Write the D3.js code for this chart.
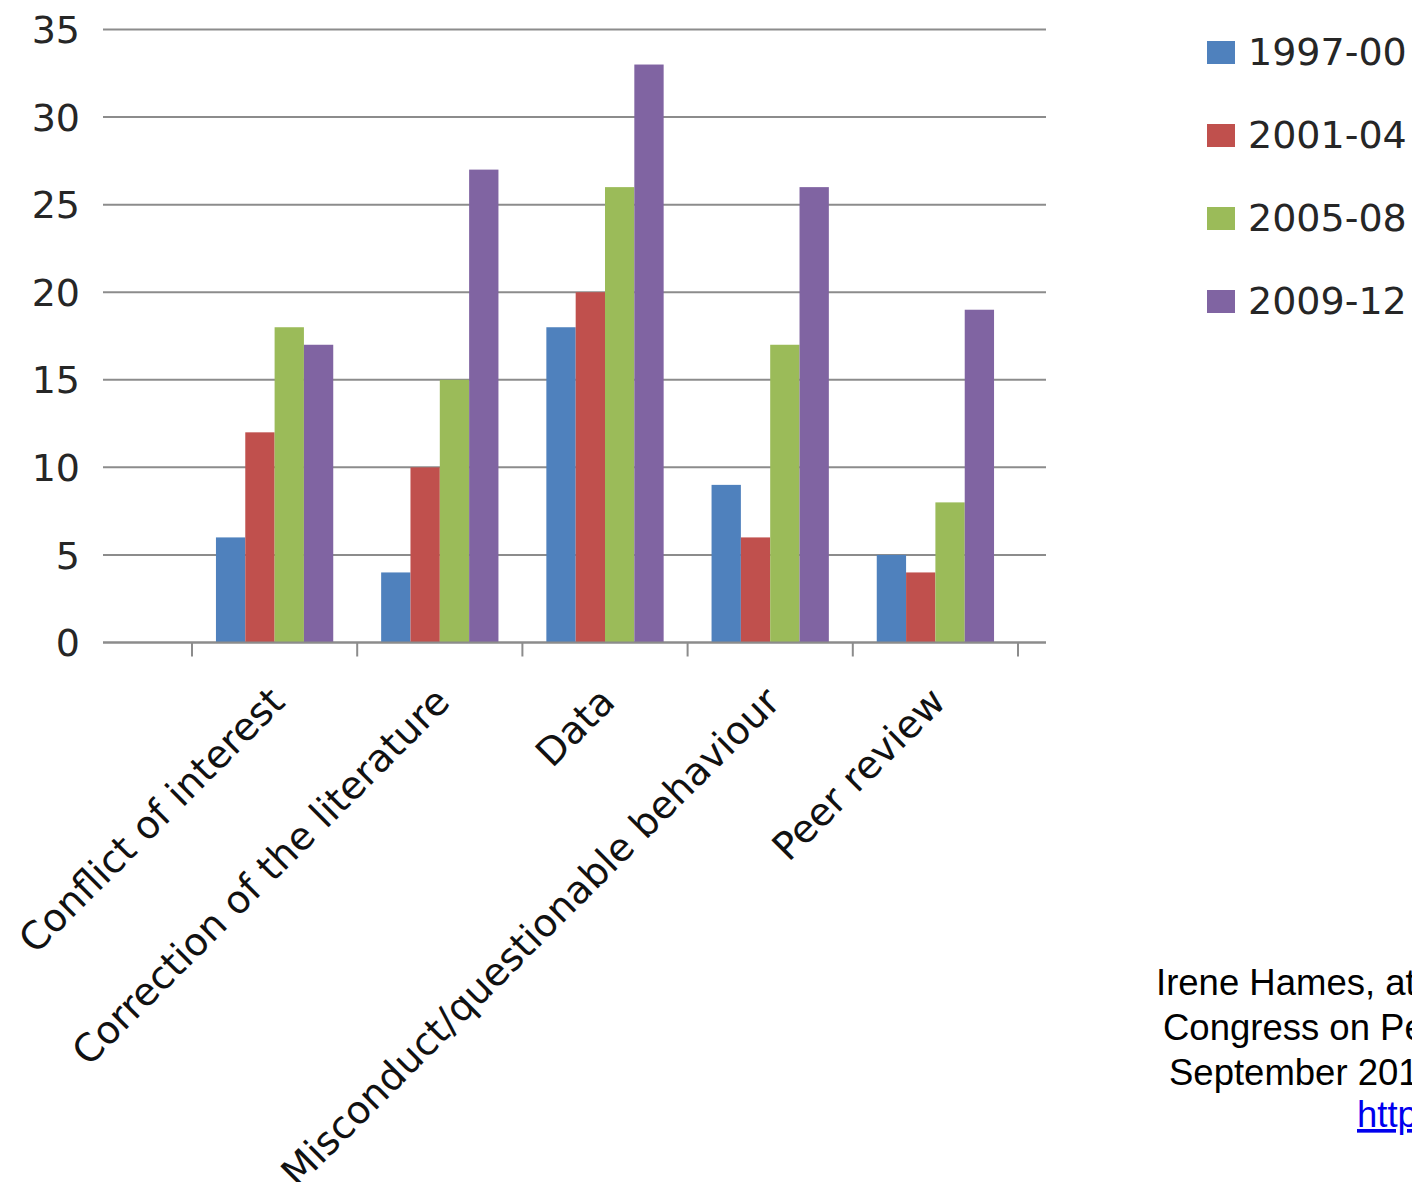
<!DOCTYPE html>
<html>
<head>
<meta charset="utf-8">
<script src="https://cdn.jsdelivr.net/npm/d3@7"></script>
<style>
  html, body { margin: 0; padding: 0; background: #fff; overflow: hidden; }
  svg { display: block; }
</style>
</head>
<body>
<svg id="chart" width="1412" height="1182"></svg>
<script>
// chart data
const categories = ['Conflict of interest', 'Correction of the literature', 'Data',
    'Misconduct/questionable behaviour', 'Peer review'];
const seriesNames = ['1997-00', '2001-04', '2005-08', '2009-12'];
const values1997 = [6, 4, 18, 9, 5];
const values2001 = [12, 10, 20, 6, 4];
const values2005 = [18, 15, 26, 17, 8];
const values2009 = [17, 27, 33, 26, 19];
const yTicks = [0, 5, 10, 15, 20, 25, 30, 35];
const sourceLines = [
    'Irene Hames, at the Seventh International',
    'Congress on Peer Review and Biomedical Publication,',
    'September 2013,'
];
const sourceLink = 'http://www.peerreviewcongress.org';

const colors = ['#4f81bd', '#c0504d', '#9bbb59', '#8064a2'];
const seriesValues = [values1997, values2001, values2005, values2009];

const svg = d3.select('#chart');
const font = '"DejaVu Sans", sans-serif';
const gridColor = '#8c8c8c';

const plot = { left: 103, right: 1046, top: 29.5, bottom: 642.5 };

const y = d3.scaleLinear().domain([0, 35]).range([plot.bottom, plot.top]);
const x0 = d3.scaleBand().domain(categories).range([192, 1018])
    .paddingInner(0.29).paddingOuter(0.145);
const x1 = d3.scaleBand().domain(seriesNames).range([0, x0.bandwidth()]);

// gridlines
svg.append('g')
    .selectAll('line')
    .data(yTicks)
    .join('line')
    .attr('x1', plot.left)
    .attr('x2', plot.right)
    .attr('y1', (d) => y(d))
    .attr('y2', (d) => y(d))
    .attr('stroke', gridColor)
    .attr('stroke-width', 2);

// y labels
svg.append('g')
    .selectAll('text')
    .data(yTicks)
    .join('text')
    .attr('x', 80)
    .attr('y', (d) => y(d))
    .attr('dy', '0.36em')
    .attr('text-anchor', 'end')
    .style('font-family', font)
    .style('font-size', '38px')
    .attr('fill', '#262626')
    .text((d) => d);

// bars
const rows = categories.map((c, i) => ({ key: c, vals: seriesValues.map((s, j) => ({ name: seriesNames[j], v: s[i], j })) }));

svg.append('g')
    .selectAll('g')
    .data(rows)
    .join('g')
    .attr('transform', (d) => `translate(${x0(d.key)},0)`)
    .selectAll('rect')
    .data((d) => d.vals)
    .join('rect')
    .attr('x', (d) => x1(d.name))
    .attr('width', x1.bandwidth())
    .attr('y', (d) => y(d.v))
    .attr('height', (d) => y(0) - y(d.v))
    .attr('fill', (d) => colors[d.j]);

// x axis line and ticks
svg.append('line')
    .attr('x1', plot.left).attr('x2', plot.right)
    .attr('y1', y(0)).attr('y2', y(0))
    .attr('stroke', gridColor).attr('stroke-width', 2);

const step = x0.step();
const tickXs = d3.range(categories.length + 1).map((i) => 192 + i * step);
svg.append('g')
    .selectAll('line')
    .data(tickXs)
    .join('line')
    .attr('x1', (d) => d).attr('x2', (d) => d)
    .attr('y1', y(0)).attr('y2', y(0) + 14)
    .attr('stroke', gridColor).attr('stroke-width', 2);

// category labels, rotated
svg.append('g')
    .selectAll('text')
    .data(categories)
    .join('text')
    .attr('transform', (d) => `translate(${x0(d) + x0.bandwidth() / 2 + 12},704) rotate(-45)`)
    .attr('text-anchor', 'end')
    .style('font-family', font)
    .style('font-size', '38.5px')
    .attr('fill', '#111')
    .text((d) => d);

// legend
const legend = svg.append('g')
    .selectAll('g')
    .data(seriesNames)
    .join('g')
    .attr('transform', (d, i) => `translate(1207,${41 + i * 83})`);
legend.append('rect')
    .attr('width', 28).attr('height', 23)
    .attr('fill', (d, i) => colors[i]);
legend.append('text')
    .attr('x', 41).attr('y', 24)
    .style('font-family', font)
    .style('font-size', '38px')
    .attr('fill', '#262626')
    .text((d) => d);

// source note
const note = svg.append('g')
    .style('font-family', '"Liberation Sans", Arial, sans-serif')
    .style('font-size', '36.5px');
const noteX = [1156, 1163, 1169];
note.selectAll('text.line')
    .data(sourceLines)
    .join('text')
    .attr('class', 'line')
    .attr('x', (d, i) => noteX[i])
    .attr('y', (d, i) => 995 + i * 45)
    .attr('fill', '#000')
    .text((d) => d);
note.append('text')
    .attr('x', 1357).attr('y', 1127)
    .attr('fill', '#0000ee')
    .style('text-decoration', 'underline')
    .text(sourceLink);
</script>
</body>
</html>
